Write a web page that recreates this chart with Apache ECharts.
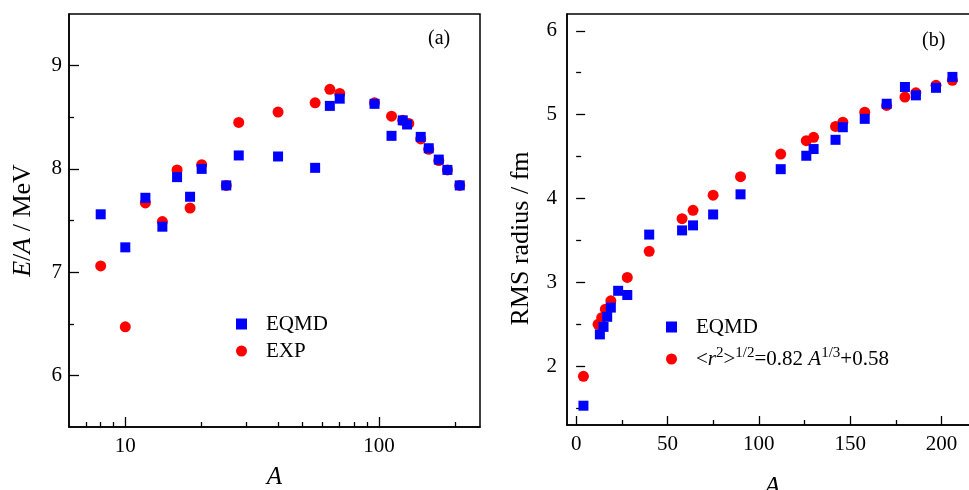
<!DOCTYPE html>
<html>
<head>
<meta charset="utf-8">
<title>EQMD binding energy and radius</title>
<script src="https://cdn.jsdelivr.net/npm/echarts@6.0.0/dist/echarts.min.js"></script>
<style>
	html, body { margin: 0; padding: 0; background: #fff; }
	#main { width: 969px; height: 490px; }
</style>
</head>
<body>
<div id="main"></div>
<script>
// (a) 每核子结合能 E/A
var massA_eqmd = [8, 10, 12, 14, 16, 18, 20, 25, 28, 40, 56, 64, 70, 96, 112, 124, 129, 146, 157, 172, 186, 208];
var energy_eqmd = [7.56, 7.24, 7.72, 7.44, 7.92, 7.73, 8.00, 7.84, 8.13, 8.12, 8.01, 8.61, 8.68, 8.63, 8.32, 8.47, 8.43, 8.31, 8.20, 8.09, 7.99, 7.84];
var massA_exp = [8, 10, 12, 14, 16, 18, 20, 25, 28, 40, 56, 64, 70, 96, 112, 124, 131, 146, 157, 172, 186, 208];
var energy_exp = [7.06, 6.47, 7.67, 7.49, 7.99, 7.62, 8.04, 7.84, 8.45, 8.55, 8.64, 8.77, 8.73, 8.64, 8.51, 8.47, 8.44, 8.29, 8.19, 8.08, 7.99, 7.84];

// (b) 均方根半径
var radA_eqmd = [4, 13, 15, 17, 19, 23, 28, 40, 58, 64, 75, 90, 112, 126, 130, 142, 146, 158, 170, 180, 186, 197, 206];
var radius_eqmd = [1.53, 2.38, 2.47, 2.59, 2.70, 2.90, 2.85, 3.57, 3.62, 3.68, 3.81, 4.05, 4.35, 4.51, 4.59, 4.70, 4.85, 4.95, 5.13, 5.33, 5.23, 5.32, 5.45];
var radA_fit = [4, 12, 14, 16, 19, 28, 40, 58, 64, 75, 90, 112, 126, 130, 142, 146, 158, 170, 180, 186, 197, 206];
var radius_fit = [1.88, 2.50, 2.58, 2.68, 2.78, 3.06, 3.37, 3.76, 3.86, 4.04, 4.26, 4.53, 4.69, 4.73, 4.86, 4.91, 5.03, 5.11, 5.21, 5.26, 5.35, 5.41];

// 刻度
var ticksA_major = [10, 100];
var ticksA_minor = [7, 8, 9, 20, 30, 40, 50, 60, 70, 80, 90, 200];
var ticksE_major = [6, 7, 8, 9];
var ticksE_minor = [6.5, 7.5, 8.5];
var ticksR_xmajor = [0, 50, 100, 150, 200];
var ticksR_xminor = [25, 75, 125, 175];
var ticksR_ymajor = [2, 3, 4, 5, 6];
var ticksR_yminor = [1.5, 2.5, 3.5, 4.5, 5.5];

var serif = "Liberation Serif";
var black = "#000";

function pairs(xs, ys) {
	var arr = [];
	for (var i = 0; i < xs.length; i++) {
		arr.push([xs[i], ys[i]]);
	}
	return arr;
}

// 带标签的轴（不画刻度）
function labelAxis(grid, type, min, max, labels, margin, extra) {
	var ax = {
		gridIndex: grid,
		type: type,
		min: min,
		max: max,
		axisLine: { show: true, onZero: false, lineStyle: { color: black, width: 1.5 } },
		axisTick: { show: false },
		axisLabel: { customValues: labels, margin: margin, color: black, fontFamily: serif, fontSize: 21 },
		splitLine: { show: false },
		nameMoveOverlap: false
	};
	for (var k in extra) { ax[k] = extra[k]; }
	return ax;
}

// 只画刻度线的轴
function tickAxis(grid, type, min, max, values, position, len) {
	return {
		gridIndex: grid,
		type: type,
		min: min,
		max: max,
		position: position,
		axisLine: { show: false },
		axisTick: { show: true, inside: true, length: len, customValues: values, lineStyle: { color: black, width: 1.3 } },
		axisLabel: { show: false },
		splitLine: { show: false }
	};
}

var nameStyle = {
	color: black,
	fontFamily: serif,
	fontSize: 26,
	rich: {
		i: { fontFamily: serif, fontSize: 26, fontStyle: "italic", color: black }
	}
};
var rmsNameStyle = { color: black, fontFamily: serif, fontSize: 26, padding: [0, 38, 0, 0] };
var italicName = { color: black, fontFamily: serif, fontSize: 25, fontStyle: "italic" };

var option = {
	animation: false,
	backgroundColor: "#fff",
	grid: [
		{ left: 69, top: 14, width: 411, height: 413, show: true, borderColor: black, borderWidth: 1.5, outerBoundsMode: "none" },
		{ left: 567, top: 14, width: 411, height: 411, show: true, borderColor: black, borderWidth: 1.5, outerBoundsMode: "none" }
	],
	xAxis: [
		labelAxis(0, "log", 6, 250, ticksA_major, 9, {
			position: "bottom", logBase: 10,
			name: "A", nameLocation: "middle", nameGap: 38, nameTextStyle: italicName
		}),
		tickAxis(0, "log", 6, 250, ticksA_major, "bottom", 10),
		tickAxis(0, "log", 6, 250, ticksA_minor, "bottom", 5),
		labelAxis(1, "value", -5, 220, ticksR_xmajor, 9, {
			position: "bottom",
			name: "A", nameLocation: "middle", nameGap: 50, nameTextStyle: italicName
		}),
		tickAxis(1, "value", -5, 220, ticksR_xmajor, "bottom", 9),
		tickAxis(1, "value", -5, 220, ticksR_xminor, "bottom", 5)
	],
	yAxis: [
		labelAxis(0, "value", 5.5, 9.5, ticksE_major, 7, {
			position: "left",
			name: "{i|E}/{i|A} / MeV", nameLocation: "middle", nameGap: 33, nameTextStyle: nameStyle
		}),
		tickAxis(0, "value", 5.5, 9.5, ticksE_major, "left", 10),
		tickAxis(0, "value", 5.5, 9.5, ticksE_minor, "left", 5),
		labelAxis(1, "value", 1.3, 6.2, ticksR_ymajor, 10, {
			position: "left",
			name: "RMS radius / fm", nameLocation: "middle", nameGap: 33, nameTextStyle: rmsNameStyle
		}),
		tickAxis(1, "value", 1.3, 6.2, ticksR_ymajor, "left", 9),
		tickAxis(1, "value", 1.3, 6.2, ticksR_yminor, "left", 5)
	],
	legend: [
		{
			data: ["EQMD", "EXP"],
			orient: "vertical",
			left: 236, top: 313, padding: 0,
			itemWidth: 11, itemHeight: 11, itemGap: 5,
			textStyle: { color: black, fontFamily: serif, fontSize: 21, lineHeight: 22, padding: [0, 0, 0, 14] }
		},
		{
			data: ["EQMD", "fit"],
			orient: "vertical",
			left: 666, top: 314, padding: 0,
			itemWidth: 11, itemHeight: 11, itemGap: 6,
			textStyle: {
				color: black, fontFamily: serif, fontSize: 21, lineHeight: 26, padding: [0, 0, 0, 14],
				rich: {
					n: { fontFamily: serif, fontSize: 21, color: black, lineHeight: 26 },
					i: { fontFamily: serif, fontSize: 21, fontStyle: "italic", color: black, lineHeight: 26 },
					s: { fontFamily: serif, fontSize: 15, color: black, verticalAlign: "top", lineHeight: 15 }
				}
			},
			formatter: function (name) {
				if (name === "fit") {
					return "{n|<}{i|r}{s|2}{n|>}{s|1/2}{n|=0.82 }{i|A}{s|1/3}{n|+0.58}";
				}
				return name;
			}
		}
	],
	graphic: [
		{ type: "text", left: 428, top: 29, style: { text: "(a)", font: "20px 'Liberation Serif'", fill: black } },
		{ type: "text", left: 922, top: 31, style: { text: "(b)", font: "20px 'Liberation Serif'", fill: black } }
	],
	series: [
		{
			name: "EXP", type: "scatter", xAxisIndex: 0, yAxisIndex: 0,
			symbol: "circle", symbolSize: 11, itemStyle: { color: "#ff0000", opacity: 1 },
			data: pairs(massA_exp, energy_exp)
		},
		{
			name: "EQMD", type: "scatter", xAxisIndex: 0, yAxisIndex: 0,
			symbol: "rect", symbolSize: 10, itemStyle: { color: "#0000ff", opacity: 1 },
			data: pairs(massA_eqmd, energy_eqmd)
		},
		{
			name: "fit", type: "scatter", xAxisIndex: 3, yAxisIndex: 3,
			symbol: "circle", symbolSize: 11, itemStyle: { color: "#ff0000", opacity: 1 },
			data: pairs(radA_fit, radius_fit)
		},
		{
			name: "EQMD", type: "scatter", xAxisIndex: 3, yAxisIndex: 3,
			symbol: "rect", symbolSize: 10, itemStyle: { color: "#0000ff", opacity: 1 },
			data: pairs(radA_eqmd, radius_eqmd)
		}
	]
};

var myChart = echarts.init(document.getElementById("main"));
myChart.setOption(option);
</script>
</body>
</html>
